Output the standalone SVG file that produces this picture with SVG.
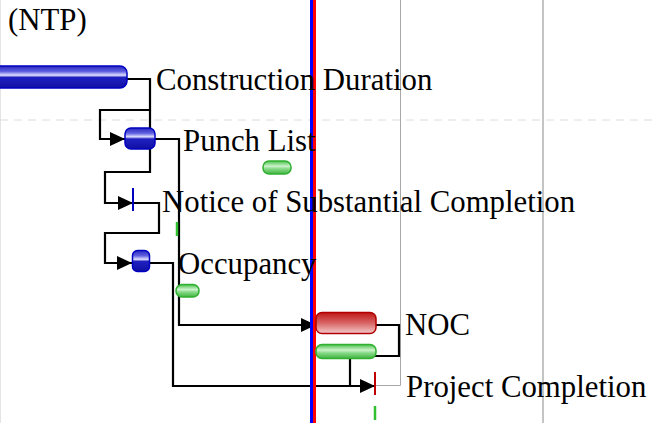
<svg xmlns="http://www.w3.org/2000/svg" width="654" height="423" viewBox="0 0 654 423">
<style>
text{font-family:"Liberation Serif","Times New Roman",serif;font-size:30.8px;fill:#000}
.conn{fill:none;stroke:#000;stroke-width:2.2}
.blue{fill:url(#gBlue);stroke:#0000c0;stroke-width:1.5}
.red{fill:url(#gRed);stroke:#b00000;stroke-width:1.5}
.green{fill:url(#gGreen);stroke:#30b030;stroke-width:1.5}
</style>
<defs>
<linearGradient id="gBlue" x1="0" y1="0" x2="0" y2="1">
<stop offset="0" stop-color="#2828c0"/>
<stop offset="0.25" stop-color="#6060e0"/>
<stop offset="0.42" stop-color="#e0e0ff"/>
<stop offset="0.52" stop-color="#2020c0"/>
<stop offset="1" stop-color="#1010a4"/>
</linearGradient>
<linearGradient id="gRed" x1="0" y1="0" x2="0" y2="1">
<stop offset="0" stop-color="#c01818"/>
<stop offset="0.5" stop-color="#d86464"/>
<stop offset="1" stop-color="#f4caca"/>
</linearGradient>
<linearGradient id="gGreen" x1="0" y1="0" x2="0" y2="1">
<stop offset="0" stop-color="#48c048"/>
<stop offset="0.4" stop-color="#ccf2cc"/>
<stop offset="0.6" stop-color="#88da88"/>
<stop offset="1" stop-color="#40b440"/>
</linearGradient>
<marker id="arr" markerUnits="userSpaceOnUse" markerWidth="16" markerHeight="14" refX="15" refY="7" orient="auto">
<path d="M0,0 L15,7 L0,14 Z" fill="#000"/>
</marker>
</defs>
<rect x="0" y="0" width="654" height="423" fill="#fff"/>
<g id="grid">
<line x1="0.5" y1="0" x2="0.5" y2="423" stroke="#e4e4e4" stroke-width="1"/>
<line x1="0" y1="120" x2="654" y2="120" stroke="#dcdcdc" stroke-width="1" stroke-dasharray="8,6"/>
<polyline points="376,385.5 400.5,385.5 400.5,0" fill="none" stroke="#a8a8a8" stroke-width="1"/>
<line x1="543" y1="0" x2="543" y2="423" stroke="#c4c4c4" stroke-width="2"/>
</g>
<g id="ntp"><text x="8" y="30">(NTP)</text></g>
<g id="connectors">
<path class="conn" d="M127,79 H150 V110 H100 V139 H125" marker-end="url(#arr)"/>
<path class="conn" d="M150,110 V172 H105 V203 H133" marker-end="url(#arr)"/>
<path class="conn" d="M155,139 H179 V325 H316" marker-end="url(#arr)"/>
<path class="conn" d="M133,203 H159 V233 H105 V263 H132" marker-end="url(#arr)"/>
<path class="conn" d="M150,263 H173 V386 H375" marker-end="url(#arr)"/>
<path class="conn" d="M376,325 H399 V356 H350 V386"/>
</g>
<g id="today">
<line x1="311.5" y1="0" x2="311.5" y2="423" stroke="#0000ff" stroke-width="3"/>
<line x1="314.5" y1="0" x2="314.5" y2="423" stroke="#ff0000" stroke-width="3"/>
</g>
<g id="construction-duration">
<rect class="blue" x="-10" y="66" width="137" height="22" rx="7"/>
<text x="156" y="90">Construction Duration</text>
</g>
<g id="punch-list">
<rect class="blue" x="125" y="128" width="30" height="21" rx="6"/>
<rect class="green" x="263" y="161" width="28" height="13" rx="6"/>
<text x="183" y="151">Punch List</text>
</g>
<g id="notice-substantial-completion">
<line x1="133" y1="188" x2="133" y2="211" stroke="#0000c0" stroke-width="2"/>
<line x1="177" y1="222" x2="177" y2="236" stroke="#30c030" stroke-width="2.5"/>
<text x="162" y="212">Notice of Substantial Completion</text>
</g>
<g id="occupancy">
<rect class="blue" x="132.5" y="250.5" width="17" height="21" rx="5"/>
<rect class="green" x="176" y="284.5" width="23" height="12.5" rx="6"/>
<text x="178" y="274">Occupancy</text>
</g>
<g id="noc">
<rect class="red" x="316" y="312.5" width="60" height="21" rx="6"/>
<rect class="green" x="316" y="344.5" width="60" height="14" rx="6"/>
<text x="405" y="335">NOC</text>
</g>
<g id="project-completion">
<line x1="375" y1="372" x2="375" y2="395" stroke="#c00000" stroke-width="2"/>
<line x1="375" y1="406" x2="375" y2="420" stroke="#30c030" stroke-width="2.5"/>
<text x="406" y="397">Project Completion</text>
</g>
</svg>
